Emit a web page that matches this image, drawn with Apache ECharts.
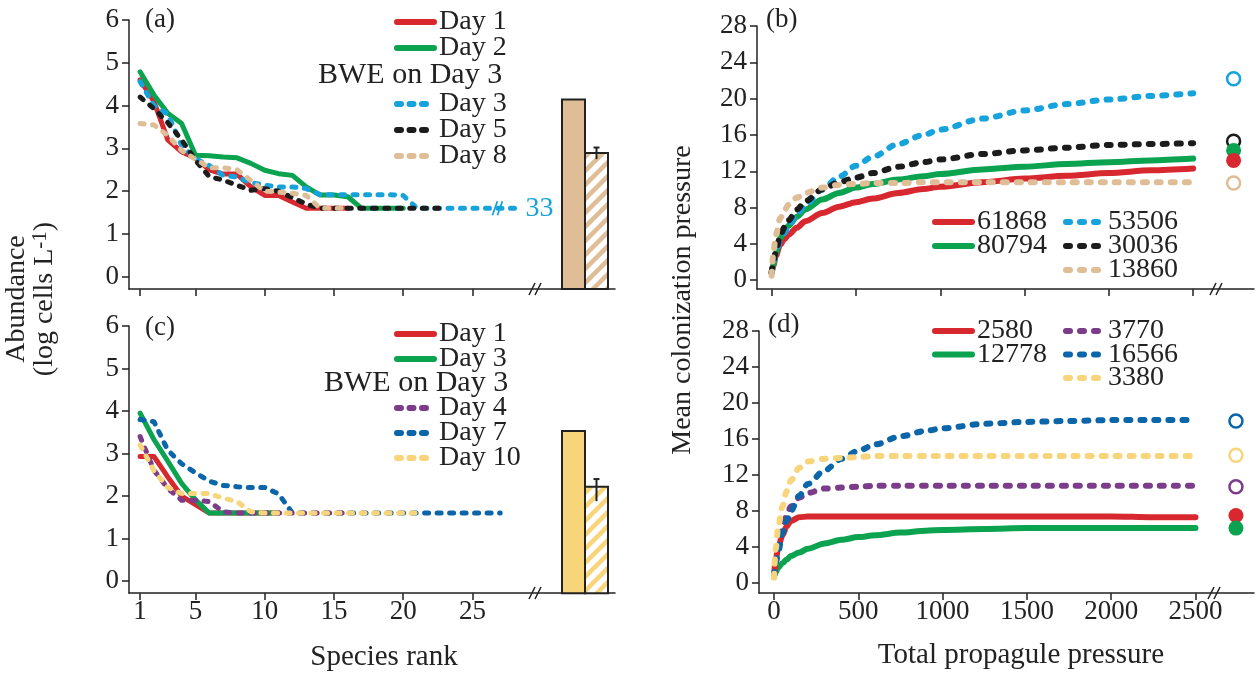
<!DOCTYPE html>
<html>
<head>
<meta charset="utf-8">
<title>Abundance and colonization pressure</title>
<script src="https://cdn.jsdelivr.net/npm/echarts@6.0.0/dist/echarts.min.js"></script>
<style>
html,body{margin:0;padding:0;background:#fff;}
#main{width:1257px;height:676px;}
</style>
</head>
<body>
<div id="main"></div>
<script>
// ---------- 数据 ----------
var rankTicks = [1, 5, 10, 15, 20, 25];
var abundTicks = [0, 1, 2, 3, 4, 5, 6];
var cpTicks = [0, 4, 8, 12, 16, 20, 24, 28];
var ppTicks = [0, 500, 1000, 1500, 2000, 2500];

// (a) 物种排序丰度, 从 rank 1 开始
var aDay1 = [4.6, 4.1, 3.2, 2.92, 2.77, 2.5, 2.4, 2.4, 2.1, 1.9, 1.9, 1.75, 1.6, 1.6, 1.6, 1.6];
var aDay2 = [4.79, 4.25, 3.82, 3.58, 2.84, 2.83, 2.8, 2.78, 2.65, 2.49, 2.41, 2.37, 2.1, 1.91, 1.91, 1.87, 1.6, 1.6, 1.6, 1.6];
var aDay3 = [4.56, 4.0, 3.8, 3.07, 2.76, 2.6, 2.37, 2.33, 2.2, 2.14, 2.1, 2.1, 2.06, 1.92, 1.92, 1.92, 1.92, 1.92, 1.92, 1.9, 1.6, 1.6, 1.6, 1.6, 1.6, 1.6];
var aDay5 = [4.2, 3.93, 3.6, 3.2, 2.72, 2.34, 2.26, 2.14, 2.02, 2.06, 2.0, 1.85, 1.7, 1.6, 1.6, 1.6, 1.6, 1.6, 1.6, 1.6, 1.6, 1.6, 1.6];
var aDay8 = [3.58, 3.55, 3.3, 2.95, 2.75, 2.55, 2.55, 2.5, 2.25, 2.0, 1.98, 1.95, 1.9, 1.6, 1.6, 1.6];
var aDay3TailPos = 28.4;   // 断轴后的末端位置
var aDay3TailLabel = '33';
var aDay3BreakPos = 26.8;
var aBars = [4.14, 2.89];
var aErr = [2.75, 3.02];

// (c)
var cDay1 = [2.93, 2.93, 2.45, 2.0, 1.8, 1.6, 1.6, 1.6, 1.6, 1.6, 1.6];
var cDay3 = [3.95, 3.33, 2.82, 2.3, 1.91, 1.6, 1.6, 1.6, 1.6, 1.6, 1.6];
var cDay4 = [3.4, 2.61, 2.18, 1.9, 1.9, 1.87, 1.63, 1.6, 1.6, 1.6, 1.6, 1.6, 1.6, 1.6, 1.6, 1.6];
var cDay7 = [3.8, 3.75, 3.08, 2.76, 2.55, 2.35, 2.25, 2.22, 2.2, 2.2, 2.05, 1.6, 1.6, 1.6, 1.6, 1.6, 1.6, 1.6, 1.6, 1.6, 1.6, 1.6, 1.6, 1.6, 1.6, 1.6, 1.6];
var cDay10 = [3.2, 2.6, 2.2, 2.06, 2.06, 2.06, 1.95, 1.87, 1.63, 1.6, 1.6, 1.6, 1.6, 1.6, 1.6, 1.6, 1.6, 1.6, 1.6, 1.6, 1.6];
var cBars = [3.53, 2.22];
var cErr = [1.88, 2.4];

// (b)(d) 定殖压力曲线
var ppX = [0, 10, 25, 50, 75, 100, 150, 200, 300, 400, 500, 600, 750, 900, 1000, 1250, 1500, 1750, 2000, 2250, 2500];
var b61868 = [0.8, 1.6, 2.7, 3.9, 4.5, 5.0, 5.8, 6.5, 7.4, 8.1, 8.6, 9.0, 9.6, 10.05, 10.3, 10.8, 11.2, 11.5, 11.8, 12.1, 12.3];
var b80794 = [0.8, 1.8, 3.0, 4.6, 5.4, 6.0, 7.0, 7.8, 8.9, 9.6, 10.2, 10.6, 11.1, 11.45, 11.7, 12.2, 12.5, 12.8, 13.0, 13.2, 13.4];
var b53506 = [0.8, 1.8, 3.0, 4.3, 5.2, 6.0, 7.3, 8.3, 10.0, 11.4, 12.6, 13.6, 15.0, 16.0, 16.6, 17.8, 18.7, 19.4, 19.9, 20.3, 20.6];
var b30036 = [0.9, 2.0, 3.2, 4.8, 5.8, 6.6, 7.8, 8.7, 10.0, 10.8, 11.3, 11.8, 12.5, 13.0, 13.3, 13.9, 14.3, 14.6, 14.9, 15.0, 15.1];
var b13860 = [0.5, 3.0, 5.0, 6.8, 7.7, 8.3, 9.1, 9.6, 10.2, 10.5, 10.6, 10.7, 10.7, 10.8, 10.8, 10.8, 10.8, 10.8, 10.8, 10.8, 10.8];
var d2580 = [0.7, 2.5, 4.0, 5.3, 6.3, 6.9, 7.3, 7.4, 7.4, 7.4, 7.4, 7.4, 7.4, 7.4, 7.4, 7.4, 7.4, 7.4, 7.4, 7.3, 7.3];
var d12778 = [0.7, 1.2, 1.7, 2.2, 2.6, 3.0, 3.4, 3.8, 4.4, 4.8, 5.1, 5.3, 5.6, 5.8, 5.9, 6.0, 6.1, 6.1, 6.1, 6.1, 6.1];
var d3770 = [0.7, 2.3, 4.0, 6.0, 7.5, 8.5, 9.5, 10.0, 10.5, 10.6, 10.7, 10.8, 10.8, 10.8, 10.8, 10.8, 10.8, 10.8, 10.8, 10.8, 10.8];
var d16566 = [0.8, 2.2, 3.5, 5.5, 6.9, 8.0, 9.7, 11.0, 12.5, 13.8, 14.7, 15.4, 16.3, 16.9, 17.2, 17.7, 17.9, 18.0, 18.1, 18.1, 18.1];
var d3380 = [0.6, 3.7, 6.3, 8.5, 10.2, 11.4, 12.8, 13.5, 13.8, 13.9, 14.0, 14.1, 14.1, 14.1, 14.1, 14.1, 14.1, 14.1, 14.1, 14.1, 14.1];
// 观测值 (圆点)
var obsX = 2740;
var bObs = {'61868': 13.2, '80794': 14.3, '53506': 22.2, '30036': 15.3, '13860': 10.7};
var dObs = {'2580': 7.5, '12778': 6.1, '3770': 10.7, '16566': 18.0, '3380': 14.2};

// ---------- 样式 ----------
var FONT = 'Liberation Serif';
var INK = '#222';
var C = {red: '#d7282f', green: '#0ba350', sky: '#16a3dc', black: '#1c1c1c', tan: '#dfbd96',
         purple: '#7b3d8a', navy: '#0b65a9', yellow: '#f8d57a'};
var abMin = -0.285;

function byRank(vals) { return vals.map(function (v, i) { return [i + 1, v]; }); }
function byPP(vals) { return vals.map(function (v, i) { return [ppX[i], v]; }); }

function lineS(name, data, color, dashed, idx, w, dash) {
    return {
        name: name, type: 'line', xAxisIndex: idx, yAxisIndex: idx, data: data,
        symbol: 'none', smooth: idx >= 4 ? 0.3 : false, smoothMonotone: 'x',
        lineStyle: {color: color, width: w, type: dashed ? dash : 'solid', cap: 'round', join: 'round'},
        itemStyle: {color: color}, emphasis: {disabled: true}, silent: true
    };
}

function obsS(idx, y, color, filled) {
    return {
        type: 'scatter', xAxisIndex: idx, yAxisIndex: idx, data: [[obsX, y]], symbol: 'circle',
        symbolSize: filled ? 15 : 13, silent: true,
        itemStyle: {color: filled ? color : '#fff', borderColor: color, borderWidth: filled ? 0 : 2.5, opacity: 1}
    };
}

function hatch(color) {
    var s = 14, cv = document.createElement('canvas');
    cv.width = s; cv.height = s;
    var g = cv.getContext('2d');
    g.fillStyle = '#fff'; g.fillRect(0, 0, s, s);
    g.strokeStyle = color; g.lineWidth = 4.5;
    g.beginPath();
    g.moveTo(-s / 2, s / 2); g.lineTo(s / 2, -s / 2);
    g.moveTo(0, s); g.lineTo(s, 0);
    g.moveTo(s / 2, s * 1.5); g.lineTo(s * 1.5, s / 2);
    g.stroke();
    return {image: cv, repeat: 'repeat'};
}

// 柱 + 误差线
function barS(idx, vals, err, color) {
    var pat = hatch(color);
    return {
        type: 'custom', xAxisIndex: idx, yAxisIndex: idx, silent: true,
        encode: {x: 0, y: 1},
        data: [[0, vals[0], 0, 0, 0], [1, vals[1], err[0], err[1], 1]],
        renderItem: function (params, api) {
            var cat = api.value(0), v = api.value(1), hatched = api.value(4);
            var top = api.coord([cat, v]), base = api.coord([cat, abMin]);
            var w = api.size([1, 0])[0];
            var kids = [{
                type: 'rect',
                shape: {x: top[0] - w / 2, y: top[1], width: w, height: base[1] - top[1]},
                style: {fill: hatched ? pat : color, stroke: INK, lineWidth: 2}
            }];
            if (hatched) {
                var lo = api.coord([cat, api.value(2)]), hi = api.coord([cat, api.value(3)]);
                kids.push({type: 'line', shape: {x1: lo[0], y1: lo[1], x2: hi[0], y2: hi[1]}, style: {stroke: INK, lineWidth: 2}});
                kids.push({type: 'line', shape: {x1: hi[0] - 3, y1: hi[1], x2: hi[0] + 3, y2: hi[1]}, style: {stroke: INK, lineWidth: 2}});
            }
            return {type: 'group', children: kids};
        }
    };
}

function valAxis(gi, min, max, ticks, showLabel, margin) {
    return {
        type: 'value', gridIndex: gi, min: min, max: max,
        axisLine: {show: true, onZero: false, lineStyle: {color: INK, width: 1.5}},
        axisTick: {show: true, length: 7, customValues: ticks, lineStyle: {color: INK, width: 1.5}},
        axisLabel: {show: showLabel, customValues: ticks, margin: margin, color: INK, fontFamily: FONT, fontSize: 27,
                    formatter: function (v) { return String(v); }},
        splitLine: {show: false}
    };
}
function hiddenAxis(gi, type, min, max) {
    var a = {type: type, gridIndex: gi, show: false};
    if (type === 'category') a.data = ['0', '1'];
    else { a.min = min; a.max = max; }
    return a;
}

function legendOf(names, left, top, gap) {
    return {
        data: names, left: left, top: top, orient: 'vertical', padding: 0,
        itemWidth: 37, itemHeight: 12, itemGap: gap, selectedMode: false,
        itemStyle: {opacity: 0},
        lineStyle: {width: 6, cap: 'round'},
        textStyle: {fontFamily: FONT, fontSize: 28, color: INK},
        formatter: function (n) { return n.split('|')[0]; }
    };
}

function txt(x, y, s, size, opt) {
    opt = opt || {};
    return {
        type: 'text', x: x, y: y, rotation: opt.rot || 0, silent: true,
        style: {
            text: s, font: size + 'px "' + FONT + '"', fill: opt.color || INK,
            align: opt.align || 'left', verticalAlign: 'middle',
            textAlign: opt.align || 'left', textVerticalAlign: 'middle', rich: opt.rich
        }
    };
}
function brk(x, y) {
    return [
        {type: 'line', silent: true, shape: {x1: x - 6, y1: y + 6, x2: x, y2: y - 6}, style: {stroke: INK, lineWidth: 1.5}},
        {type: 'line', silent: true, shape: {x1: x, y1: y + 6, x2: x + 6, y2: y - 6}, style: {stroke: INK, lineWidth: 1.5}}
    ];
}

var dA = [4, 8.5], dB = [4, 10];

// (a)
var aSky = lineS('Day 3|a', byRank(aDay3).concat([[aDay3TailPos, 1.6]]), C.sky, true, 0, 5, dA);
aSky.endLabel = {show: true, formatter: aDay3TailLabel, color: C.sky, fontFamily: FONT, fontSize: 28, distance: 6};
aSky.markPoint = {
    symbol: 'path://M0,14L5,0M5,14L10,0', symbolSize: [10, 14], silent: true,
    itemStyle: {color: 'none', borderColor: C.sky, borderWidth: 2}, label: {show: false},
    data: [{coord: [aDay3BreakPos, 1.6]}]
};

var series = [
    lineS('Day 1|a', byRank(aDay1), C.red, false, 0, 5),
    lineS('Day 2|a', byRank(aDay2), C.green, false, 0, 5),
    aSky,
    lineS('Day 5|a', byRank(aDay5), C.black, true, 0, 5, dA),
    lineS('Day 8|a', byRank(aDay8), C.tan, true, 0, 5, dA),
    // (c)
    lineS('Day 1|c', byRank(cDay1), C.red, false, 1, 5),
    lineS('Day 3|c', byRank(cDay3), C.green, false, 1, 5),
    lineS('Day 7|c', byRank(cDay7), C.navy, true, 1, 5, dA),
    lineS('Day 4|c', byRank(cDay4), C.purple, true, 1, 5, dA),
    lineS('Day 10|c', byRank(cDay10), C.yellow, true, 1, 5, dA),
    barS(2, aBars, aErr, C.tan),
    barS(3, cBars, cErr, C.yellow),
    // (b)
    lineS('61868|b', byPP(b61868), C.red, false, 4, 6),
    lineS('80794|b', byPP(b80794), C.green, false, 4, 6),
    lineS('53506|b', byPP(b53506), C.sky, true, 4, 6, dB),
    lineS('30036|b', byPP(b30036), C.black, true, 4, 6, dB),
    lineS('13860|b', byPP(b13860), C.tan, true, 4, 6, dB),
    obsS(4, bObs['53506'], C.sky, false),
    obsS(4, bObs['30036'], C.black, false),
    obsS(4, bObs['80794'], C.green, true),
    obsS(4, bObs['61868'], C.red, true),
    obsS(4, bObs['13860'], C.tan, false),
    // (d)
    lineS('12778|d', byPP(d12778), C.green, false, 5, 6),
    lineS('2580|d', byPP(d2580), C.red, false, 5, 6),
    lineS('3770|d', byPP(d3770), C.purple, true, 5, 6, dB),
    lineS('16566|d', byPP(d16566), C.navy, true, 5, 6, dB),
    lineS('3380|d', byPP(d3380), C.yellow, true, 5, 6, dB),
    obsS(5, dObs['16566'], C.navy, false),
    obsS(5, dObs['3380'], C.yellow, false),
    obsS(5, dObs['3770'], C.purple, false),
    obsS(5, dObs['2580'], C.red, true),
    obsS(5, dObs['12778'], C.green, true)
];

var graphics = [
    txt(17, 299, 'Abundance', 28, {rot: Math.PI / 2, align: 'center'}),
    txt(45, 299, '(log cells L{sup|-1})', 28, {rot: Math.PI / 2, align: 'center',
        rich: {sup: {fontFamily: FONT, fontSize: 21, fill: INK, color: INK, padding: [0, 0, 9, 0]}}}),
    txt(683, 300, 'Mean colonization pressure', 28, {rot: Math.PI / 2, align: 'center'}),
    txt(384, 657, 'Species rank', 29, {align: 'center'}),
    txt(1021, 655, 'Total propagule pressure', 29, {align: 'center'}),
    txt(145, 20, '(a)', 27), txt(145, 328, '(c)', 27),
    txt(766, 20, '(b)', 27), txt(768, 325, '(d)', 27),
    txt(318, 75, 'BWE on Day 3', 30), txt(324, 383, 'BWE on Day 3', 30)
].concat(brk(535, 289), brk(535, 593), brk(1216, 289), brk(1214, 593));

var myChart = echarts.init(document.getElementById('main'), null, {renderer: 'canvas'});
var option = {
    animation: false,
    backgroundColor: '#fff',
    textStyle: {fontFamily: FONT},
    grid: [
        {left: 129, top: 20, width: 486, height: 269, outerBoundsMode: 'none'},
        {left: 129, top: 326, width: 486, height: 267, outerBoundsMode: 'none'},
        {left: 562, top: 20, width: 46, height: 269, outerBoundsMode: 'none'},
        {left: 562, top: 326, width: 46, height: 267, outerBoundsMode: 'none'},
        {left: 757, top: 26, width: 497, height: 263, outerBoundsMode: 'none'},
        {left: 759, top: 331, width: 495, height: 262, outerBoundsMode: 'none'}
    ],
    xAxis: [
        valAxis(0, 0.2, 35.29, rankTicks, false, 6),
        valAxis(1, 0.2, 35.29, rankTicks, true, 5),
        hiddenAxis(2, 'category'),
        hiddenAxis(3, 'category'),
        valAxis(4, -87, 2861, ppTicks, false, 6),
        valAxis(5, -89, 2847, ppTicks, true, 5)
    ],
    yAxis: [
        valAxis(0, abMin, 6, abundTicks, true, 10),
        valAxis(1, -0.28, 6, abundTicks, true, 10),
        hiddenAxis(2, 'value', abMin, 6),
        hiddenAxis(3, 'value', -0.28, 6),
        valAxis(4, -0.965, 28, cpTicks, true, 10),
        valAxis(5, -1.11, 28, cpTicks, true, 10)
    ],
    legend: [
        legendOf(['Day 1|a', 'Day 2|a'], 394, 8, -2),
        legendOf(['Day 3|a', 'Day 5|a', 'Day 8|a'], 394, 90, -2),
        legendOf(['Day 1|c', 'Day 3|c'], 394, 320, -3),
        legendOf(['Day 4|c', 'Day 7|c', 'Day 10|c'], 394, 394, -3),
        legendOf(['61868|b', '80794|b'], 932, 208, -4),
        legendOf(['53506|b', '30036|b', '13860|b'], 1063, 208, -4),
        legendOf(['2580|d', '12778|d'], 932, 317, -4.5),
        legendOf(['3770|d', '16566|d', '3380|d'], 1063, 317, -4.5)
    ],
    graphic: graphics,
    series: series
};
myChart.setOption(option);
window.onresize = function () { myChart.resize(); };
</script>
</body>
</html>
